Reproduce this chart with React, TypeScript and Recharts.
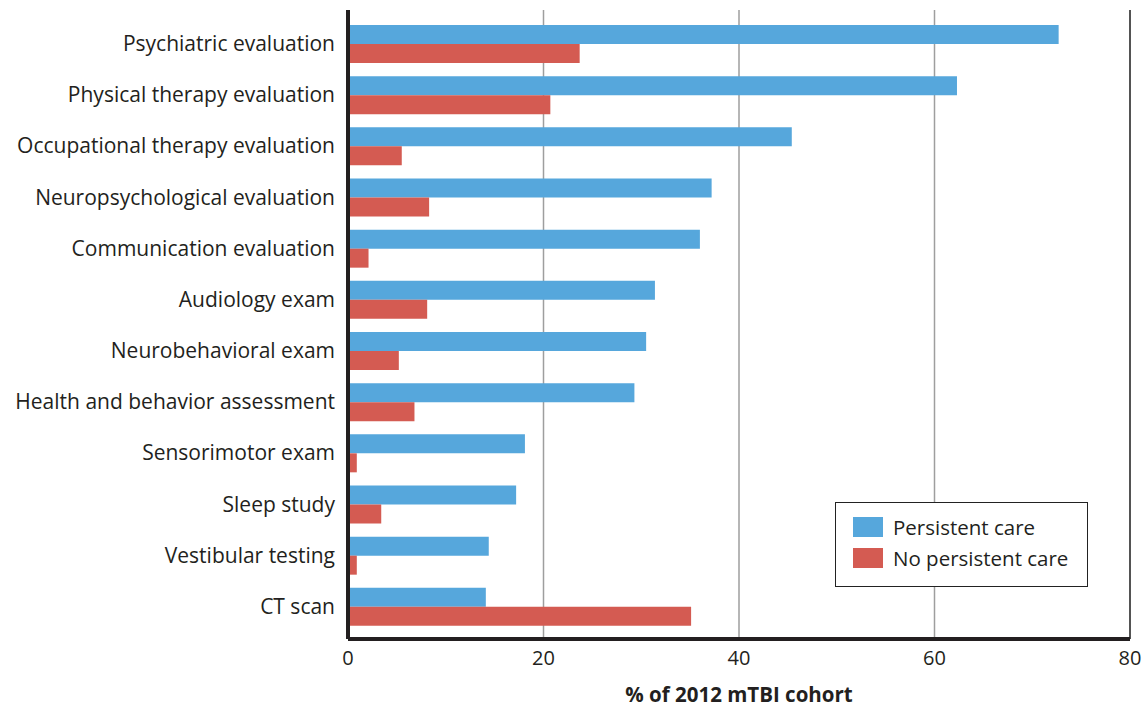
import React from 'react';
import {
  BarChart, Bar, XAxis, YAxis, CartesianGrid, ReferenceLine, Legend,
} from 'recharts';

const categories = [
  'Psychiatric evaluation',
  'Physical therapy evaluation',
  'Occupational therapy evaluation',
  'Neuropsychological evaluation',
  'Communication evaluation',
  'Audiology exam',
  'Neurobehavioral exam',
  'Health and behavior assessment',
  'Sensorimotor exam',
  'Sleep study',
  'Vestibular testing',
  'CT scan',
];

const persistentCare = [72.7, 62.3, 45.4, 37.2, 36.0, 31.4, 30.5, 29.3, 18.1, 17.2, 14.4, 14.1];
const noPersistentCare = [23.7, 20.7, 5.5, 8.3, 2.1, 8.1, 5.2, 6.8, 0.9, 3.4, 0.9, 35.1];

const xTicks = [0, 20, 40, 60, 80];

const BLUE = '#56A7DC';
const RED = '#D45B52';
const FONT = '"Open Sans", "Noto Sans", sans-serif';

const data = categories.map((name, i) => ({
  name,
  persistent: persistentCare[i],
  noPersistent: noPersistentCare[i],
}));

const LegendBox = () => (
  <div
    style={{
      border: '1.5px solid #222',
      width: 253,
      height: 85,
      boxSizing: 'border-box',
      background: '#fff',
      padding: '8px 0 0 17px',
      fontFamily: FONT,
      fontSize: 20.5,
      color: '#231F20',
    }}
  >
    {[
      { label: 'Persistent care', color: BLUE },
      { label: 'No persistent care', color: RED },
    ].map((it) => (
      <div key={it.label} style={{ display: 'flex', alignItems: 'center', height: 31, whiteSpace: 'nowrap' }}>
        <span style={{ display: 'inline-block', width: 30, height: 20, background: it.color, marginRight: 10 }} />
        <span>{it.label}</span>
      </div>
    ))}
  </div>
);

export default function App() {
  return (
    <div style={{ width: 1143, height: 708, background: '#fff' }}>
      <style>{'body{margin:0;}'}</style>
      <BarChart
        width={1143}
        height={708}
        data={data}
        layout="vertical"
        margin={{ top: 10, right: 13, left: 0, bottom: 0 }}
        barSize={19}
        barGap={0}
      >
        <CartesianGrid horizontal={false} stroke="#9e9e9e" strokeWidth={1.5} />
        <XAxis
          type="number"
          domain={[0, 80]}
          ticks={xTicks}
          height={69}
          tickLine={false}
          tickSize={0}
          tickMargin={12}
          axisLine={{ stroke: '#231F20', strokeWidth: 4 }}
          tick={{ fill: '#231F20', fontSize: 20, fontFamily: FONT }}
          label={{
            value: '% of 2012 mTBI cohort',
            position: 'insideBottom',
            offset: 6,
            fill: '#231F20',
            fontSize: 20.5,
            fontWeight: 'bold',
            fontFamily: FONT,
          }}
        />
        <XAxis
          xAxisId="top"
          orientation="top"
          type="number"
          domain={[0, 80]}
          height={0}
          tick={false}
          tickLine={false}
          axisLine={{ stroke: '#6b6b6b', strokeWidth: 2 }}
        />
        <YAxis
          type="category"
          dataKey="name"
          width={348}
          padding={{ top: 8, bottom: 7 }}
          tickLine={false}
          tickSize={0}
          tickMargin={13}
          interval={0}
          axisLine={{ stroke: '#231F20', strokeWidth: 4 }}
          tick={{ fill: '#231F20', fontSize: 21, fontFamily: FONT }}
        />
        <ReferenceLine x={80} stroke="#333" strokeWidth={1.5} />
        <Legend
          layout="vertical"
          align="center"
          verticalAlign="middle"
          content={<LegendBox />}
          wrapperStyle={{ position: 'absolute', left: 835, top: 502, width: 'auto' }}
        />
        <Bar dataKey="persistent" name="Persistent care" fill={BLUE} isAnimationActive={false} />
        <Bar dataKey="noPersistent" name="No persistent care" fill={RED} isAnimationActive={false} />
      </BarChart>
    </div>
  );
}
